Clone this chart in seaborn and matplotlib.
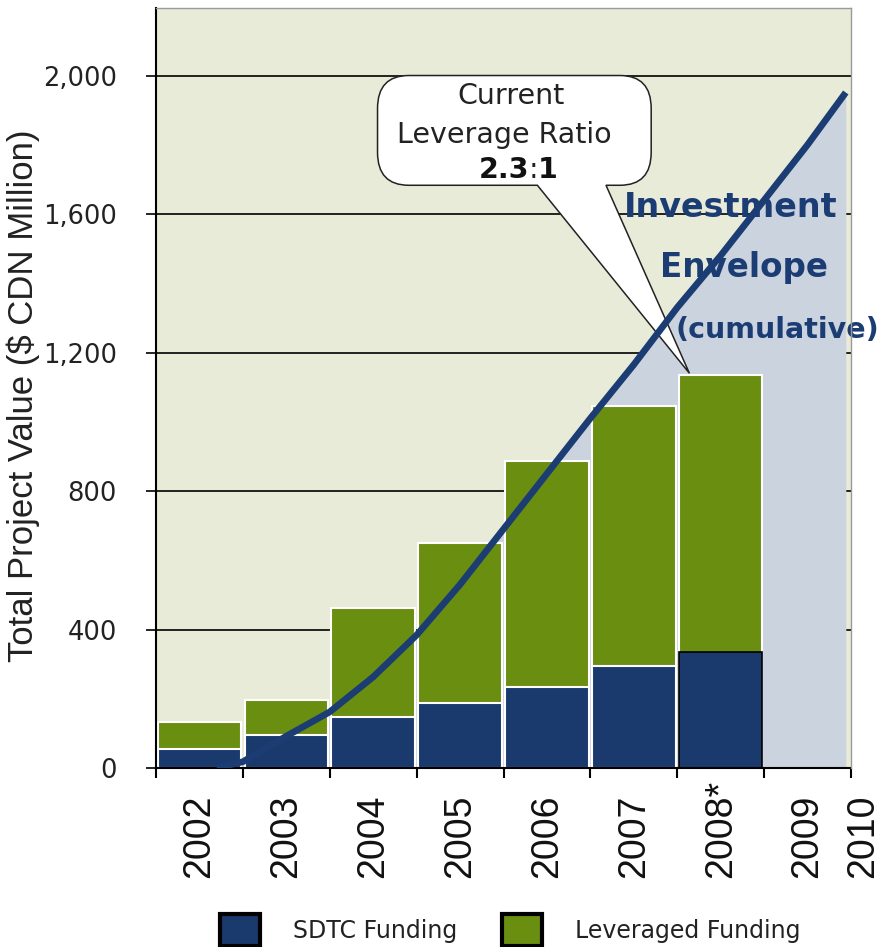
import matplotlib
matplotlib.use("Agg")
import matplotlib.pyplot as plt
from matplotlib.path import Path
from matplotlib.patches import PathPatch, Patch
from matplotlib.transforms import ScaledTranslation
import seaborn as sns
import pandas as pd
import numpy as np

# ---------------- data ----------------
bar_years = [2002, 2003, 2004, 2005, 2006, 2007, 2008]
sdtc_funding = [55, 95, 148, 188, 234, 295, 336]
leveraged_funding = [78, 101, 315, 462, 653, 750, 800]

envelope_year = [2002.70, 2003.00, 2003.50, 2004.00, 2004.50, 2005.00, 2005.50,
                 2006.00, 2006.50, 2007.00, 2007.50, 2008.00, 2008.50, 2009.00,
                 2009.50, 2009.94]
envelope_value = [0, 18, 92, 162, 263, 384, 530, 690, 850, 1010, 1165, 1330,
                  1480, 1640, 1800, 1951]

x_tick_labels = ["2002", "2003", "2004", "2005", "2006", "2007", "2008*", "2009", "2010"]
y_ticks = [0, 400, 800, 1200, 1600, 2000]

# ---------------- style ----------------
NAVY = "#1A3A6E"
GREEN = "#6A8E10"
BEIGE = "#E8EBD8"
BLUEGREY = "#CBD3DF"
CURVE = "#1C3D74"
TXT = "#222222"

sns.set_style("white")
plt.rcParams["font.family"] = ["DejaVu Sans"]

fig = plt.figure(figsize=(8.83, 9.47), dpi=100)
ax = fig.add_axes([156 / 883, 1 - 768 / 947, 695 / 883, 760 / 947])
ax.set_facecolor(BEIGE)

base = bar_years[0]
df = pd.DataFrame({
    "pos": [y - base + 0.5 for y in bar_years],
    "sdtc": sdtc_funding,
    "total": [s + l for s, l in zip(sdtc_funding, leveraged_funding)],
})

# investment envelope fill + curve
env_pos = [y - base for y in envelope_year]
ax.fill_between(env_pos, envelope_value, 0, color=BLUEGREY, zorder=1, linewidth=0)

# stacked bars
sns.barplot(data=df, x="pos", y="total", native_scale=True, orient="x",
            color=GREEN, saturation=1, width=0.96, errorbar=None,
            edgecolor="white", linewidth=1.5, zorder=2, ax=ax)
sns.barplot(data=df, x="pos", y="sdtc", native_scale=True, orient="x",
            color=NAVY, saturation=1, width=0.96, errorbar=None,
            edgecolor="white", linewidth=1.5, zorder=2, ax=ax)
ax.patches[-1].set_edgecolor("black")
ax.patches[-1].set_linewidth(1.2)

# callout bubble (drawn below the curve)
L, R, B, T = 2.55, 5.70, 1683, 2000
rx, ry = 0.36, 95
tail_l, tail_r, tip = 4.39, 5.18, (6.14, 1140)
verts = [(L + rx, B), (tail_l, B), tip, (tail_r, B), (R - rx, B),
         (R, B), (R, B + ry), (R, T - ry), (R, T), (R - rx, T),
         (L + rx, T), (L, T), (L, T - ry), (L, B + ry), (L, B), (L + rx, B),
         (L + rx, B)]
codes = [Path.MOVETO, Path.LINETO, Path.LINETO, Path.LINETO, Path.LINETO,
         Path.CURVE3, Path.CURVE3, Path.LINETO, Path.CURVE3, Path.CURVE3,
         Path.LINETO, Path.CURVE3, Path.CURVE3, Path.LINETO, Path.CURVE3, Path.CURVE3,
         Path.CLOSEPOLY]
ax.add_patch(PathPatch(Path(verts, codes), facecolor="white", edgecolor=TXT,
                       linewidth=1.1, zorder=3, clip_on=False))

sns.lineplot(x=env_pos, y=envelope_value, color=CURVE, linewidth=4.8,
             ax=ax, zorder=4, solid_capstyle="butt")

# texts
ax.text(4.09, 1942, "Current", ha="center", va="center", fontsize=20.5, color=TXT, zorder=5)
ax.text(4.01, 1827, "Leverage Ratio", ha="center", va="center", fontsize=20.5, color=TXT, zorder=5)
ax.text(4.345, 1726, ":", ha="center", va="center", fontsize=20.5, color=TXT, zorder=5)
ax.text(4.30, 1726, "2.3", ha="right", va="center", fontsize=20.5, fontweight="bold", color="#111111", zorder=5)
ax.text(4.39, 1726, "1", ha="left", va="center", fontsize=20.5, fontweight="bold", color="#111111", zorder=5)

ax.text(6.61, 1619, "Investment", ha="center", va="center", fontsize=24, fontweight="bold", color=CURVE, zorder=5)
ax.text(6.77, 1446, "Envelope", ha="center", va="center", fontsize=23.5, fontweight="bold", color=CURVE, zorder=5)
ax.text(7.15, 1264, "(cumulative)", ha="center", va="center", fontsize=20.5, fontweight="bold", color=CURVE, zorder=5, clip_on=False)

# axes
ax.set_xlim(0, 8)
ax.set_ylim(0, 2195)
ax.set_axisbelow(True)
ax.yaxis.grid(True, color="black", linewidth=1.2)
ax.xaxis.grid(False)
ax.set_yticks(y_ticks)
ax.set_yticklabels([f"{v:,}" for v in y_ticks], fontsize=18.5, color=TXT)
ax.tick_params(axis="y", which="major", direction="out", length=7, width=1.2,
               color="black", pad=21, left=True)

ax.xaxis.remove_overlapping_locs = False
ax.set_xticks(range(0, 9))
ax.set_xticklabels([])
ax.tick_params(axis="x", which="major", direction="out", length=7, width=1.5,
               color="black", bottom=True)
label_pos = [i + 0.5 for i in range(8)] + [8.0]
ax.set_xticks(label_pos, minor=True)
ax.tick_params(axis="x", which="minor", length=0, pad=79)
ax.set_xticklabels(x_tick_labels, minor=True, rotation=90, fontsize=27,
                   family="Liberation Sans", color="#111111",
                   ha="left", va="center", rotation_mode="anchor")
last = ax.xaxis.get_minorticklabels()[-1]
last.set_transform(last.get_transform() + ScaledTranslation(12 / 100, 0, fig.dpi_scale_trans))

ax.set_xlabel("")
ax.set_ylabel("Total Project Value ($ CDN Million)", fontsize=25,
              family="Liberation Sans", color=TXT)
ax.yaxis.set_label_coords((40 - 156) / 695, 0.49)

for side in ["left", "bottom"]:
    ax.spines[side].set_color("black")
    ax.spines[side].set_linewidth(1.5)
for side in ["right", "top"]:
    ax.spines[side].set_visible(True)
    ax.spines[side].set_color("#9a9a9a")
    ax.spines[side].set_linewidth(1.0)
    ax.spines[side].set_zorder(6)

handles = [Patch(facecolor=NAVY, edgecolor="black", linewidth=3),
           Patch(facecolor=GREEN, edgecolor="black", linewidth=3)]
fig.legend(handles, ["SDTC Funding", "Leveraged Funding"], loc="center",
           bbox_to_anchor=(510 / 883, 1 - 930 / 947), ncol=2, frameon=False,
           fontsize=17, handlelength=1.7, handleheight=1.7,
           handletextpad=1.4, columnspacing=1.9, labelcolor=TXT)

fig.savefig("out.png", dpi=100)
